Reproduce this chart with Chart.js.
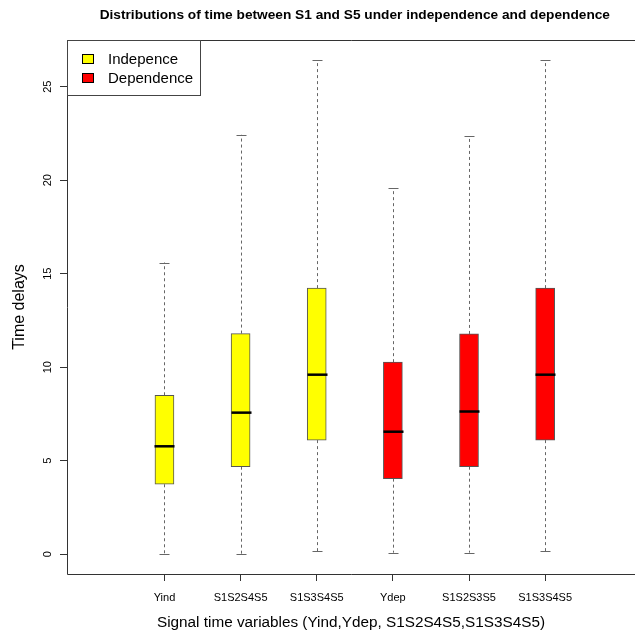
<!DOCTYPE html>
<html>
<head>
<meta charset="utf-8">
<script src="https://cdn.jsdelivr.net/npm/chart.js@4/dist/chart.umd.min.js"></script>
<style>
html, body { margin: 0; padding: 0; background: #fff; }
canvas { display: block; }
</style>
</head>
<body>
<canvas id="boxChart" width="635" height="639"></canvas>
<script>
"use strict";

// one entry per box, left to right
const categories = ['Yind', 'S1S2S4S5', 'S1S3S4S5', 'Ydep', 'S1S2S3S5', 'S1S3S4S5'];
const groups = ['Indepence', 'Indepence', 'Indepence', 'Dependence', 'Dependence', 'Dependence'];
const whiskerLow = [0.0, 0.0, 0.15, 0.08, 0.08, 0.15];
const q1 = [3.74, 4.68, 6.10, 4.04, 4.68, 6.10];
const median = [5.77, 7.57, 9.60, 6.55, 7.63, 9.60];
const q3 = [8.50, 11.80, 14.23, 10.27, 11.78, 14.23];
const whiskerHigh = [15.60, 22.43, 26.43, 19.57, 22.35, 26.43];
const yTicks = [0, 5, 10, 15, 20, 25];

const groupNames = ['Indepence', 'Dependence'];
const groupColors = ['#ffff00', '#ff0000'];

var FONT = 'Liberation Sans, Arial, Helvetica, sans-serif';

function boxesFor(group) {
    var out = [];
    categories.forEach(function (c, i) {
        if (groups[i] === group) out.push({ x: i + 1, y: [q1[i], q3[i]] });
    });
    return out;
}

function hline(ctx, x1, x2, y) {
    ctx.beginPath();
    ctx.moveTo(x1, y);
    ctx.lineTo(x2, y);
    ctx.stroke();
}

var boxParts = {
    id: 'boxParts',
    beforeDatasetsDraw: function (chart) {
        var ctx = chart.ctx, xs = chart.scales.x, ys = chart.scales.y;
        ctx.save();
        ctx.strokeStyle = '#666';
        ctx.lineWidth = 1;
        categories.forEach(function (c, i) {
            var cx = Math.round(xs.getPixelForValue(i + 1)) + 0.5;
            var lo = ys.getPixelForValue(whiskerLow[i]);
            var hi = ys.getPixelForValue(whiskerHigh[i]);
            ctx.setLineDash([3, 3]);
            ctx.beginPath();
            ctx.moveTo(cx, ys.getPixelForValue(q1[i]));
            ctx.lineTo(cx, lo);
            ctx.moveTo(cx, ys.getPixelForValue(q3[i]));
            ctx.lineTo(cx, hi);
            ctx.stroke();
            ctx.setLineDash([]);
            hline(ctx, cx - 5, cx + 5, Math.round(lo) + 0.5);
            hline(ctx, cx - 5, cx + 5, Math.round(hi) + 0.5);
        });
        ctx.restore();
    },
    afterDatasetsDraw: function (chart) {
        var ctx = chart.ctx, xs = chart.scales.x, ys = chart.scales.y;
        var area = chart.chartArea;
        ctx.save();
        // medians
        ctx.strokeStyle = '#000';
        ctx.lineWidth = 2.5;
        categories.forEach(function (c, i) {
            var cx = Math.round(xs.getPixelForValue(i + 1)) + 0.5;
            hline(ctx, cx - 10, cx + 10, ys.getPixelForValue(median[i]));
        });

        // plot frame (right side falls outside the picture)
        ctx.strokeStyle = '#333';
        ctx.lineWidth = 1;
        ctx.beginPath();
        ctx.moveTo(area.right, area.top + 0.5);
        ctx.lineTo(area.left + 0.5, area.top + 0.5);
        ctx.lineTo(area.left + 0.5, area.bottom + 0.5);
        ctx.lineTo(area.right, area.bottom + 0.5);
        ctx.stroke();

        // legend, top left inside the frame
        ctx.fillStyle = '#fff';
        ctx.fillRect(area.left + 0.5, area.top + 0.5, 133, 55);
        ctx.strokeStyle = '#444';
        ctx.strokeRect(area.left + 0.5, area.top + 0.5, 133, 55);
        ctx.font = '15px ' + FONT;
        ctx.textBaseline = 'middle';
        ctx.textAlign = 'left';
        groupNames.forEach(function (g, k) {
            var yy = area.top + 19 + k * 19;
            ctx.fillStyle = groupColors[k];
            ctx.fillRect(area.left + 15.5, yy - 4.5, 11, 9);
            ctx.strokeStyle = '#000';
            ctx.strokeRect(area.left + 15.5, yy - 4.5, 11, 9);
            ctx.fillStyle = '#000';
            ctx.fillText(g, area.left + 41, yy + 1);
        });

        // main title
        ctx.font = 'bold 13.7px ' + FONT;
        ctx.textAlign = 'center';
        ctx.fillText('Distributions of time between S1 and S5 under independence and dependence',
            xs.getPixelForValue(3.5), 15);
        ctx.restore();
    }
};

var chart = new Chart(document.getElementById('boxChart'), {
    type: 'bar',
    data: {
        datasets: groupNames.map(function (g, k) {
            return {
                label: g,
                data: boxesFor(g),
                backgroundColor: groupColors[k],
                borderColor: '#555',
                borderWidth: 1,
                borderSkipped: false,
                barThickness: 19,
                grouped: false
            };
        })
    },
    options: {
        responsive: false,
        animation: false,
        devicePixelRatio: 1,
        layout: { padding: { top: 40, right: 0, left: 0, bottom: 0 } },
        plugins: {
            legend: { display: false },
            title: { display: false },
            tooltip: { enabled: false }
        },
        scales: {
            x: {
                type: 'linear',
                offset: false,
                min: -0.28,
                max: 7.18,
                afterFit: function (s) { s.height = 65; },
                afterBuildTicks: function (s) {
                    s.ticks = categories.map(function (c, i) { return { value: i + 1 }; });
                },
                border: { display: false },
                grid: { display: true, offset: false, drawOnChartArea: false, drawTicks: true, tickLength: 7, color: '#333' },
                ticks: {
                    autoSkip: false,
                    maxRotation: 0,
                    padding: 10,
                    color: '#000',
                    font: { family: FONT, size: 11 },
                    callback: function (v) { return categories[v - 1]; }
                },
                title: {
                    display: true,
                    text: 'Signal time variables (Yind,Ydep, S1S2S4S5,S1S3S4S5)',
                    color: '#000',
                    font: { family: FONT, size: 15.3, lineHeight: 1.2 },
                    padding: { top: 0, bottom: 7 }
                }
            },
            y: {
                min: -1.06,
                max: 27.5,
                afterFit: function (s) { s.width = 67; },
                afterBuildTicks: function (s) {
                    s.ticks = yTicks.map(function (v) { return { value: v }; });
                },
                border: { display: false },
                grid: { display: true, drawOnChartArea: false, drawTicks: true, tickLength: 7, color: '#333' },
                ticks: {
                    minRotation: 90,
                    maxRotation: 90,
                    crossAlign: 'center',
                    padding: 6,
                    color: '#000',
                    font: { family: FONT, size: 11 }
                },
                title: {
                    display: true,
                    text: 'Time delays',
                    color: '#000',
                    font: { family: FONT, size: 16, lineHeight: 1.2 },
                    padding: { top: 10, bottom: 0 }
                }
            }
        }
    },
    plugins: [boxParts]
});
</script>
</body>
</html>
